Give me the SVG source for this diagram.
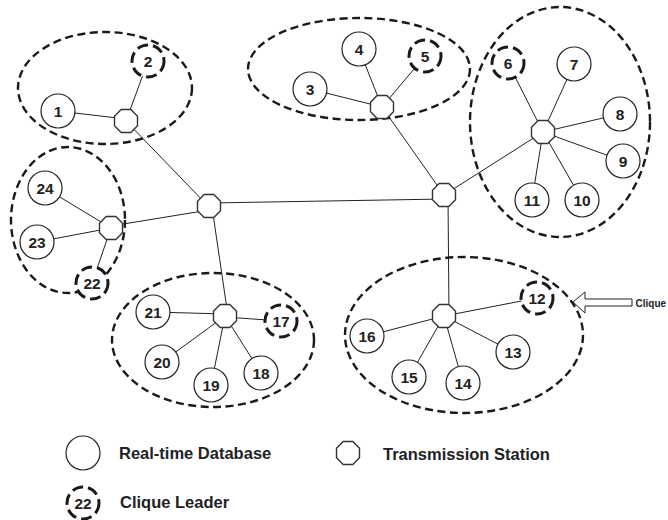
<svg xmlns="http://www.w3.org/2000/svg" xmlns:xlink="http://www.w3.org/1999/xlink" width="668" height="520" viewBox="0 0 668 520">
<style>
.cl{fill:none;stroke:#1a1a1a;stroke-width:2.4;stroke-dasharray:8 4.5}
.db{fill:#fff;stroke:#222;stroke-width:1.2}
.ld{fill:#fff;stroke:#1a1a1a;stroke-width:3;stroke-dasharray:11 5}
.st{fill:#fff;stroke:#333;stroke-width:1.4}
.n{font-family:"Liberation Sans",Arial,sans-serif;font-weight:bold;font-size:15.5px;fill:#222;text-anchor:middle}
.lg{font-family:"Liberation Sans",Arial,sans-serif;font-weight:bold;font-size:16.5px;fill:#222}
#conn line{stroke:#222;stroke-width:1}
</style>
<defs>
<polygon id="oct" points="-4.8,-11.5 4.8,-11.5 11.5,-4.8 11.5,4.8 4.8,11.5 -4.8,11.5 -11.5,4.8 -11.5,-4.8"/>
</defs>
<rect width="668" height="520" fill="#fff"/>
<g id="cliques">
<ellipse class="cl" cx="105" cy="88" rx="87" ry="56"/>
<ellipse class="cl" cx="359" cy="69" rx="111" ry="51"/>
<ellipse class="cl" cx="560" cy="122" rx="90" ry="115"/>
<ellipse class="cl" cx="68" cy="220" rx="57" ry="73"/>
<ellipse class="cl" cx="213" cy="340" rx="101" ry="67"/>
<ellipse class="cl" cx="464" cy="335" rx="119" ry="78"/>
</g>
<g id="conn">
<line x1="126" y1="121" x2="209" y2="207"/>
<line x1="58" y1="111" x2="126" y2="119"/>
<line x1="148" y1="61" x2="126" y2="121"/>
<line x1="111" y1="226" x2="209" y2="210"/>
<line x1="45" y1="188" x2="111" y2="228"/>
<line x1="37" y1="242" x2="111" y2="228"/>
<line x1="92" y1="283" x2="111" y2="228"/>
<line x1="228" y1="316" x2="212" y2="207"/>
<line x1="153" y1="312" x2="225" y2="314"/>
<line x1="162" y1="362" x2="225" y2="316"/>
<line x1="211" y1="385" x2="225" y2="316"/>
<line x1="261" y1="373" x2="225" y2="316"/>
<line x1="281" y1="321" x2="225" y2="317"/>
<line x1="209" y1="203" x2="444" y2="199"/>
<line x1="382" y1="107" x2="444" y2="195"/>
<line x1="310" y1="89" x2="382" y2="107"/>
<line x1="359" y1="49" x2="382" y2="107"/>
<line x1="425" y1="56" x2="382" y2="107"/>
<line x1="444" y1="195" x2="543" y2="132"/>
<line x1="508" y1="63" x2="543" y2="132"/>
<line x1="574" y1="64" x2="543" y2="132"/>
<line x1="620" y1="114" x2="543" y2="132"/>
<line x1="623" y1="161" x2="543" y2="132"/>
<line x1="582" y1="200" x2="543" y2="132"/>
<line x1="532" y1="200" x2="543" y2="132"/>
<line x1="448" y1="195" x2="449" y2="316"/>
<line x1="537" y1="298" x2="444" y2="316"/>
<line x1="513" y1="352" x2="444" y2="316"/>
<line x1="463" y1="383" x2="444" y2="316"/>
<line x1="409" y1="377" x2="444" y2="316"/>
<line x1="367" y1="336" x2="444" y2="316"/>
</g>
<g id="hubL"><use xlink:href="#oct" x="209" y="206" class="st"/></g>
<g id="hubR"><use xlink:href="#oct" x="444" y="195" class="st"/></g>
<g id="s1"><use xlink:href="#oct" x="126" y="121" class="st"/></g>
<g id="s2"><use xlink:href="#oct" x="382" y="107" class="st"/></g>
<g id="s3"><use xlink:href="#oct" x="543" y="132" class="st"/></g>
<g id="s4"><use xlink:href="#oct" x="111" y="228" class="st"/></g>
<g id="s5"><use xlink:href="#oct" x="225" y="316" class="st"/></g>
<g id="s6"><use xlink:href="#oct" x="444" y="316" class="st"/></g>
<g id="n1"><circle class="db" cx="58" cy="111" r="17"/><text class="n" x="58" y="116.5">1</text></g>
<g id="n2"><circle class="ld" cx="148" cy="61" r="16"/><text class="n" x="148" y="66.5">2</text></g>
<g id="n3"><circle class="db" cx="310" cy="89" r="17"/><text class="n" x="310" y="94.5">3</text></g>
<g id="n4"><circle class="db" cx="359" cy="49" r="17"/><text class="n" x="359" y="54.5">4</text></g>
<g id="n5"><circle class="ld" cx="425" cy="56" r="16"/><text class="n" x="425" y="61.5">5</text></g>
<g id="n6"><circle class="ld" cx="508" cy="63" r="16"/><text class="n" x="508" y="68.5">6</text></g>
<g id="n7"><circle class="db" cx="574" cy="64" r="17"/><text class="n" x="574" y="69.5">7</text></g>
<g id="n8"><circle class="db" cx="620" cy="114" r="17"/><text class="n" x="620" y="119.5">8</text></g>
<g id="n9"><circle class="db" cx="623" cy="161" r="17"/><text class="n" x="623" y="166.5">9</text></g>
<g id="n10"><circle class="db" cx="582" cy="200" r="17"/><text class="n" x="582" y="205.5">10</text></g>
<g id="n11"><circle class="db" cx="532" cy="200" r="17"/><text class="n" x="532" y="205.5">11</text></g>
<g id="n12"><circle class="ld" cx="537" cy="298" r="16"/><text class="n" x="537" y="303.5">12</text></g>
<g id="n13"><circle class="db" cx="513" cy="352" r="17"/><text class="n" x="513" y="357.5">13</text></g>
<g id="n14"><circle class="db" cx="463" cy="383" r="17"/><text class="n" x="463" y="388.5">14</text></g>
<g id="n15"><circle class="db" cx="409" cy="377" r="17"/><text class="n" x="409" y="382.5">15</text></g>
<g id="n16"><circle class="db" cx="367" cy="336" r="17"/><text class="n" x="367" y="341.5">16</text></g>
<g id="n17"><circle class="ld" cx="281" cy="321" r="16"/><text class="n" x="281" y="326.5">17</text></g>
<g id="n18"><circle class="db" cx="261" cy="373" r="17"/><text class="n" x="261" y="378.5">18</text></g>
<g id="n19"><circle class="db" cx="211" cy="385" r="17"/><text class="n" x="211" y="390.5">19</text></g>
<g id="n20"><circle class="db" cx="162" cy="362" r="17"/><text class="n" x="162" y="367.5">20</text></g>
<g id="n21"><circle class="db" cx="153" cy="312" r="17"/><text class="n" x="153" y="317.5">21</text></g>
<g id="n22"><circle class="ld" cx="92" cy="283" r="16"/><text class="n" x="92" y="288.5">22</text></g>
<g id="n23"><circle class="db" cx="37" cy="242" r="17"/><text class="n" x="37" y="247.5">23</text></g>
<g id="n24"><circle class="db" cx="45" cy="188" r="17"/><text class="n" x="45" y="193.5">24</text></g>
<g id="callout">
<polygon points="573,302 585,292 585,299 632,299 632,306 585,306 585,313" fill="#fff" stroke="#222" stroke-width="1"/>
<text x="635.5" y="307" font-family="Liberation Sans,Arial,sans-serif" font-weight="bold" font-size="10" fill="#222">Clique</text>
</g>
<g id="legend">
<circle class="db" cx="83" cy="453" r="17"/>
<text class="lg" x="119" y="459">Real-time Database</text>
<use xlink:href="#oct" x="348" y="453" class="st"/>
<text class="lg" x="383" y="460">Transmission Station</text>
<circle class="ld" cx="83" cy="503" r="16"/>
<text class="n" x="83" y="509" font-size="16.5">22</text>
<text class="lg" x="120" y="508">Clique Leader</text>
</g>
</svg>
